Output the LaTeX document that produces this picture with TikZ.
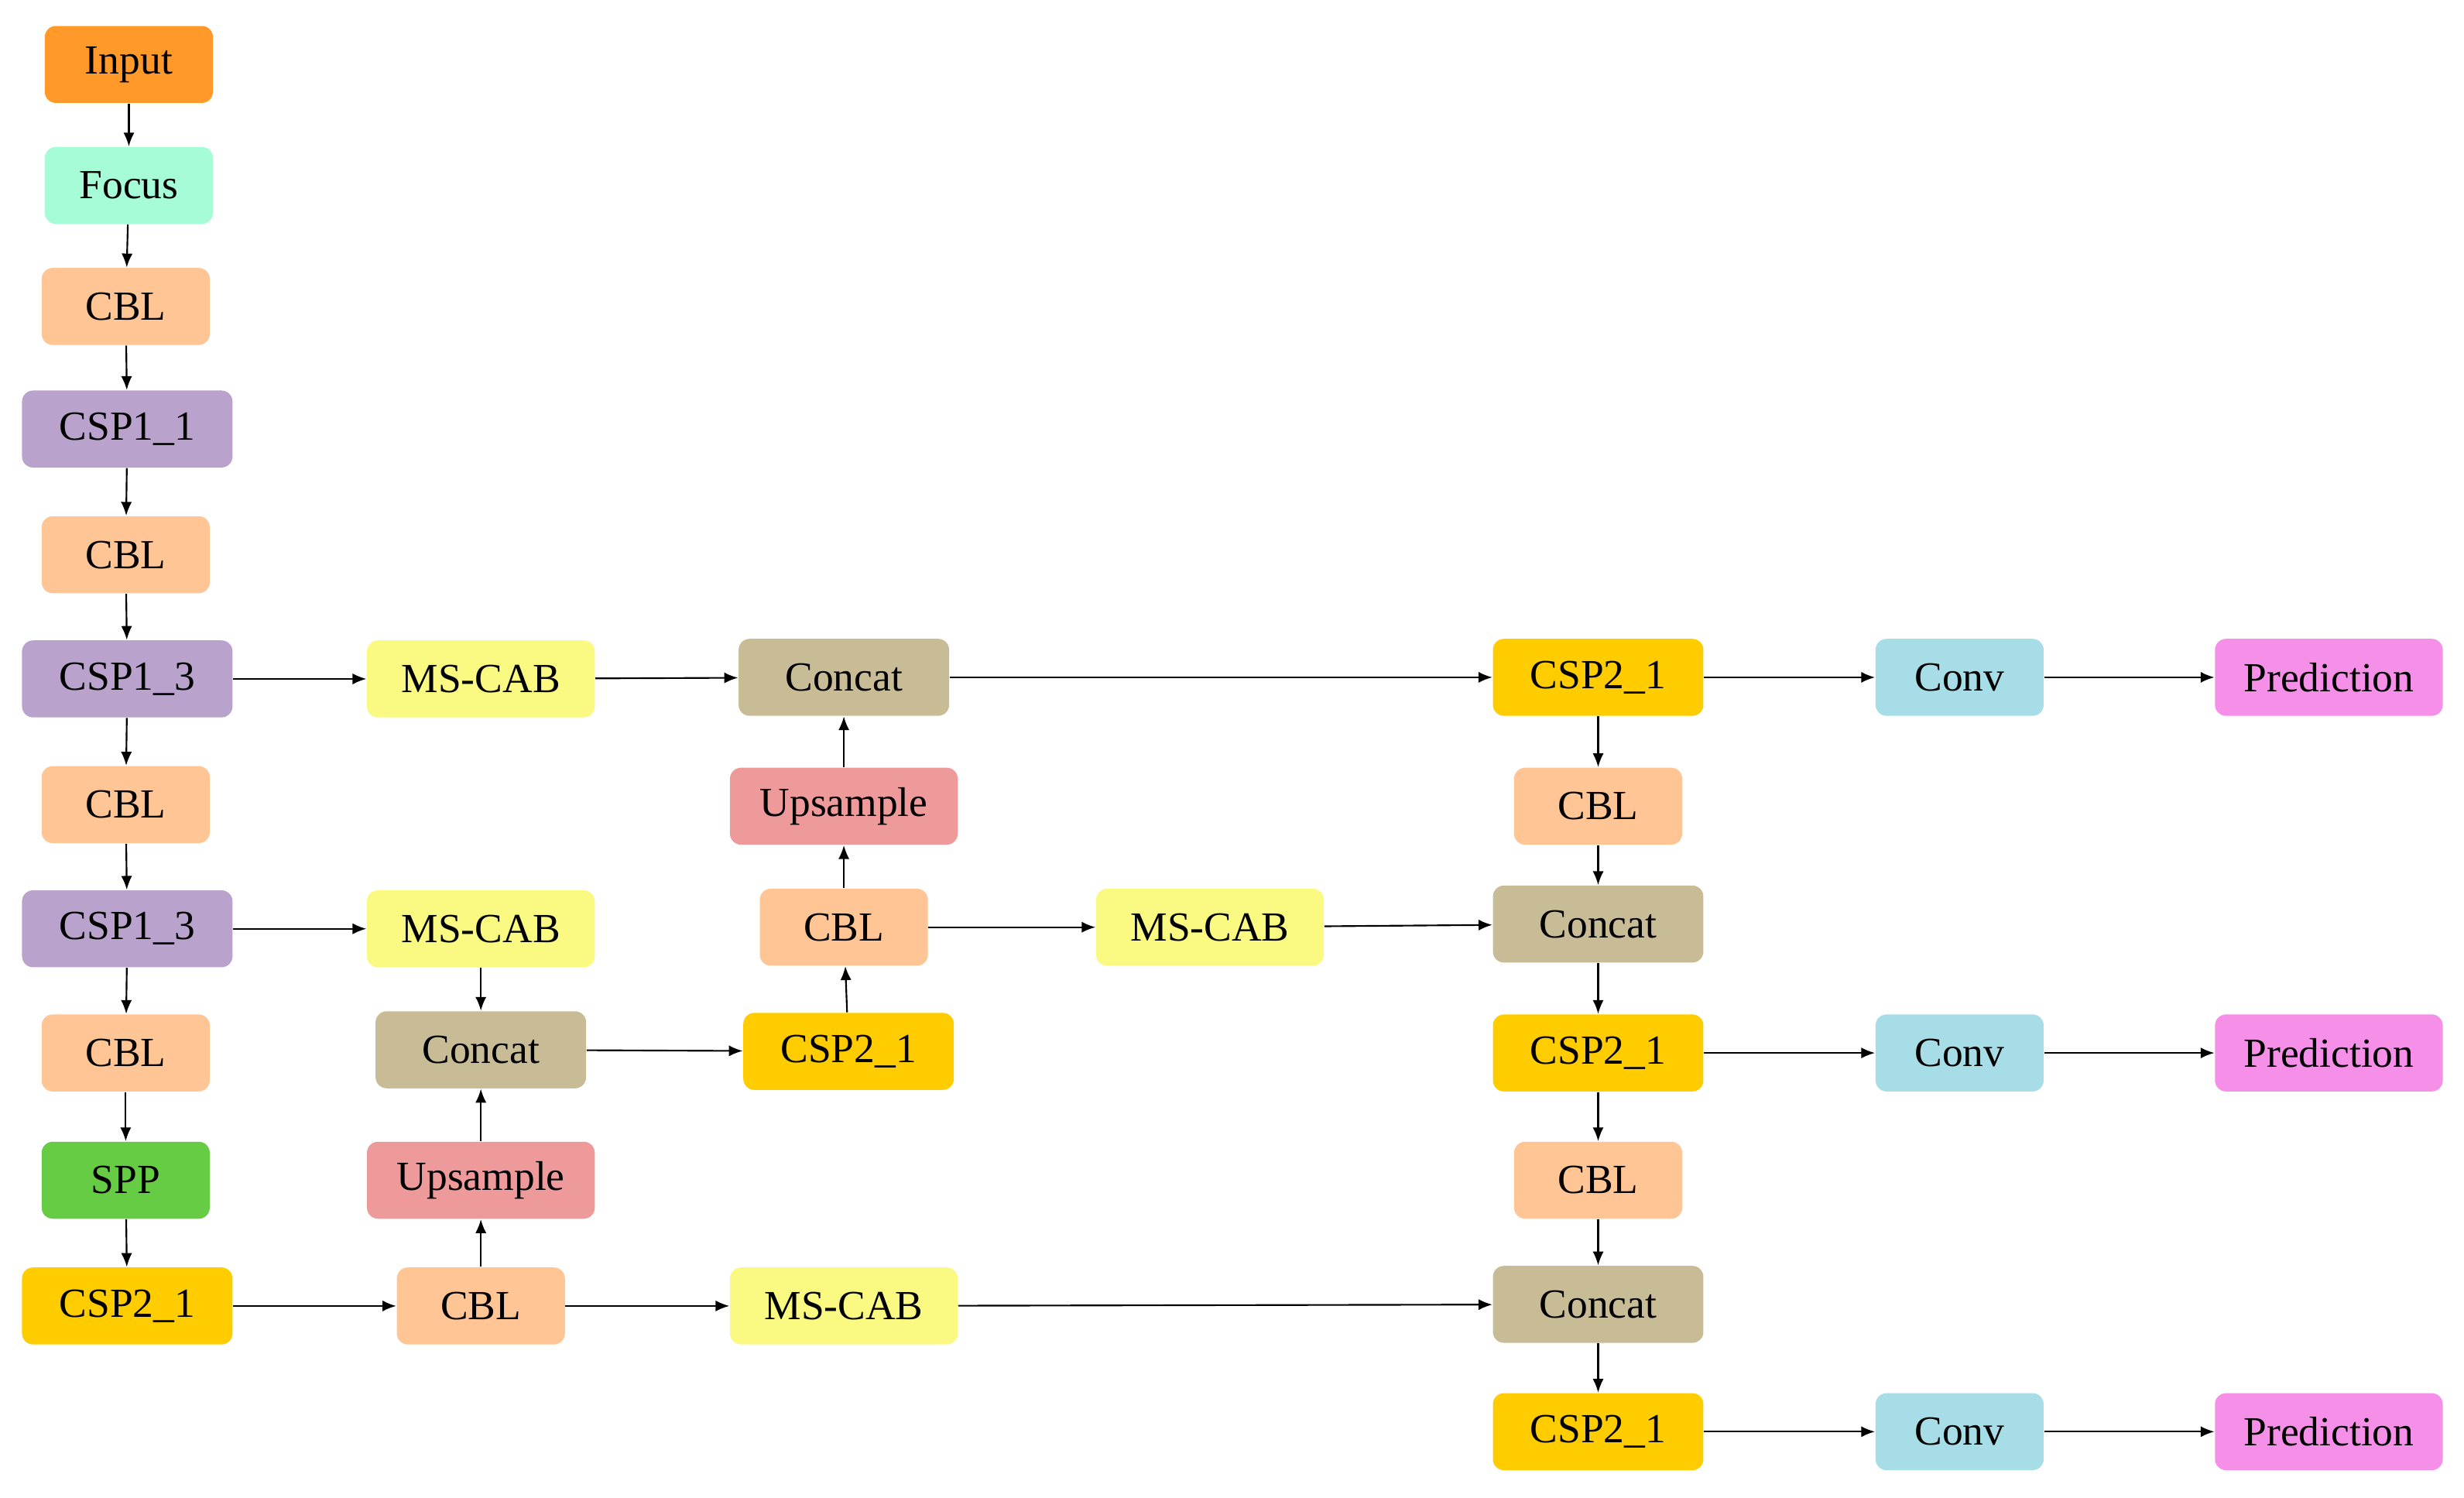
\documentclass[tikz,border=0pt]{standalone}
\usepackage{fontspec}
\setmainfont{Liberation Serif}
\usetikzlibrary{arrows.meta}
\definecolor{cIn}{HTML}{FF9A2A}
\definecolor{cFoc}{HTML}{A6FCD6}
\definecolor{cCbl}{HTML}{FFC595}
\definecolor{cCspa}{HTML}{B9A3CC}
\definecolor{cSpp}{HTML}{66CC44}
\definecolor{cCspb}{HTML}{FFCC00}
\definecolor{cMs}{HTML}{FAFA82}
\definecolor{cCat}{HTML}{C8BC96}
\definecolor{cUp}{HTML}{EF9A9A}
\definecolor{cConv}{HTML}{A6DDE6}
\definecolor{cPred}{HTML}{F58FE8}
\begin{document}
\begin{tikzpicture}[x=0.02cm, y=-0.02cm,
  font=\fontsize{15}{17}\selectfont,
  blk/.style={rounded corners=4pt, minimum height=0.98cm, inner sep=0pt},
  narrow/.style={blk, minimum width=2.14cm},
  wide/.style={blk, minimum width=2.9cm},
  mid/.style={blk, minimum width=2.68cm},
  arr/.style={-{Latex[length=5pt,width=4pt]}, line width=0.6pt}]
\useasboundingbox (0,0) rectangle (1568,953);

% backbone
\node[narrow, fill=cIn] (in) at (82,41) {Input};
\node[narrow, fill=cFoc] (foc) at (82,118) {Focus};
\node[narrow, fill=cCbl] (b1) at (80,195) {CBL};
\node[mid, fill=cCspa] (c1) at (81,273) {CSP1\_1};
\node[narrow, fill=cCbl] (b2) at (80,353) {CBL};
\node[mid, fill=cCspa] (c2) at (81,432) {CSP1\_3};
\node[narrow, fill=cCbl] (b3) at (80,512) {CBL};
\node[mid, fill=cCspa] (c3) at (81,591) {CSP1\_3};
\node[narrow, fill=cCbl] (b4) at (80,670) {CBL};
\node[narrow, fill=cSpp] (spp) at (80,751) {SPP};
\node[mid, fill=cCspb] (c4) at (81,831) {CSP2\_1};

% neck
\node[wide, fill=cMs] (ms1) at (306,432) {MS-CAB};
\node[wide, fill=cMs] (ms2) at (306,591) {MS-CAB};
\node[mid, fill=cCat] (cat1) at (306,668) {Concat};
\node[wide, fill=cUp] (up1) at (306,751) {Upsample};
\node[narrow, fill=cCbl] (b5) at (306,831) {CBL};
\node[mid, fill=cCat] (cat2) at (537,431) {Concat};
\node[wide, fill=cUp] (up2) at (537,513) {Upsample};
\node[narrow, fill=cCbl] (b6) at (537,590) {CBL};
\node[mid, fill=cCspb] (c5) at (540,669) {CSP2\_1};
\node[wide, fill=cMs] (ms3) at (537,831) {MS-CAB};
\node[wide, fill=cMs] (ms4) at (770,590) {MS-CAB};

% head
\node[mid, fill=cCspb] (h1) at (1017,431) {CSP2\_1};
\node[narrow, fill=cCbl] (h2) at (1017,513) {CBL};
\node[mid, fill=cCat] (h3) at (1017,588) {Concat};
\node[mid, fill=cCspb] (h4) at (1017,670) {CSP2\_1};
\node[narrow, fill=cCbl] (h5) at (1017,751) {CBL};
\node[mid, fill=cCat] (h6) at (1017,830) {Concat};
\node[mid, fill=cCspb] (h7) at (1017,911) {CSP2\_1};
\node[narrow, fill=cConv] (v1) at (1247,431) {Conv};
\node[narrow, fill=cConv] (v2) at (1247,670) {Conv};
\node[narrow, fill=cConv] (v3) at (1247,911) {Conv};
\node[wide, fill=cPred] (p1) at (1482,431) {Prediction};
\node[wide, fill=cPred] (p2) at (1482,670) {Prediction};
\node[wide, fill=cPred] (p3) at (1482,911) {Prediction};

\foreach \a/\b in {in/foc,foc/b1,b1/c1,c1/b2,b2/c2,c2/b3,b3/c3,c3/b4,b4/spp,spp/c4,
  h1/h2,h2/h3,h3/h4,h4/h5,h5/h6,h6/h7,ms2/cat1,up1/cat1,b5/up1,c5/b6,b6/up2,up2/cat2}
  \draw[arr] (\a) -- (\b);
\foreach \a/\b in {c2/ms1,ms1/cat2,cat2/h1,h1/v1,v1/p1,c3/ms2,cat1/c5,b6/ms4,ms4/h3,
  h4/v2,v2/p2,c4/b5,b5/ms3,ms3/h6,h7/v3,v3/p3}
  \draw[arr] (\a) -- (\b);
\end{tikzpicture}
\end{document}
